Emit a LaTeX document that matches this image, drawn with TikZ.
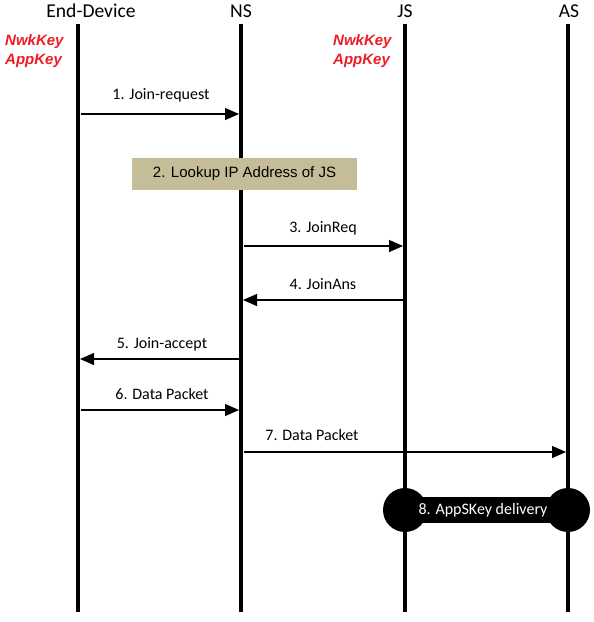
\documentclass[tikz,border=0pt]{standalone}
\usepackage{fontspec}
\setmainfont{Carlito}
\newfontfamily\arialf{Liberation Sans}
\usetikzlibrary{arrows.meta}
\definecolor{boxtan}{RGB}{196,189,151}
\definecolor{keyred}{RGB}{237,28,36}
\begin{document}
\begin{tikzpicture}[x=1pt,y=-1pt,
  lifeline/.style={line width=4pt,black},
  header/.style={font=\fontsize{19.6}{22}\selectfont,inner sep=0pt,anchor=center},
  keytext/.style={font=\arialf\bfseries\itshape\fontsize{15}{18}\selectfont,text=keyred,align=left,inner sep=0pt},
  msg/.style={line width=1.2pt,-{Triangle[length=14pt,width=12pt]}},
  msglabel/.style={font=\fontsize{16}{19}\selectfont,inner sep=0pt}]
\useasboundingbox (0,0) rectangle (594,622);
% headers
\node[header] (hED) at (91,11) {End-Device};
\node[header] (hNS) at (241,11) {NS};
\node[header] (hJS) at (405,11) {JS};
\node[header] (hAS) at (569,11) {AS};
% lifelines
\coordinate (edT) at (78,24); \coordinate (edB) at (78,612);
\coordinate (nsT) at (241,24); \coordinate (nsB) at (241,612);
\coordinate (jsT) at (405,24); \coordinate (jsB) at (405,612);
\coordinate (asT) at (568,24); \coordinate (asB) at (568,612);
\draw[lifeline] (edT) -- (edB);
\draw[lifeline] (nsT) -- (nsB);
\draw[lifeline] (jsT) -- (jsB);
\draw[lifeline] (asT) -- (asB);
% keys
\node[keytext,anchor=north west] (k1) at (5,34) {NwkKey\\[1pt]AppKey};
\node[keytext,anchor=north west] (k2) at (333,34) {NwkKey\\[1pt]AppKey};
% 1
\coordinate (m1a) at (81,114); \coordinate (m1b) at (239,114);
\draw[msg] (m1a) -- (m1b);
\node[msglabel] (l1) at (161,95) {1. Join-request};
% 2
\node[fill=boxtan,minimum width=225pt,minimum height=32pt,inner sep=0pt,
  font=\arialf\fontsize{15}{18}\selectfont] (b2) at (244.5,174) {2. Lookup IP Address of JS};
% 3
\coordinate (m3a) at (244,246); \coordinate (m3b) at (403,246);
\draw[msg] (m3a) -- (m3b);
\node[msglabel] (l3) at (323,228) {3. JoinReq};
% 4
\coordinate (m4a) at (403,300); \coordinate (m4b) at (243,300);
\draw[msg] (m4a) -- (m4b);
\node[msglabel] (l4) at (323,284) {4. JoinAns};
% 5
\coordinate (m5a) at (240,359); \coordinate (m5b) at (80,359);
\draw[msg] (m5a) -- (m5b);
\node[msglabel] (l5) at (162,344) {5. Join-accept};
% 6
\coordinate (m6a) at (81,410); \coordinate (m6b) at (239,410);
\draw[msg] (m6a) -- (m6b);
\node[msglabel] (l6) at (162,394) {6. Data Packet};
% 7
\coordinate (m7a) at (244,452); \coordinate (m7b) at (566,452);
\draw[msg] (m7a) -- (m7b);
\node[msglabel] (l7) at (312,435) {7. Data Packet};
% 8
\coordinate (c8a) at (405,510); \coordinate (c8b) at (568,510);
\fill[black] (c8a) circle (22);
\fill[black] (c8b) circle (22);
\fill[black] (405,497) rectangle (568,523);
\node[font=\fontsize{16}{19}\selectfont,text=white,inner sep=0pt] (l8) at (483,510) {8. AppSKey delivery};
\end{tikzpicture}
\end{document}
